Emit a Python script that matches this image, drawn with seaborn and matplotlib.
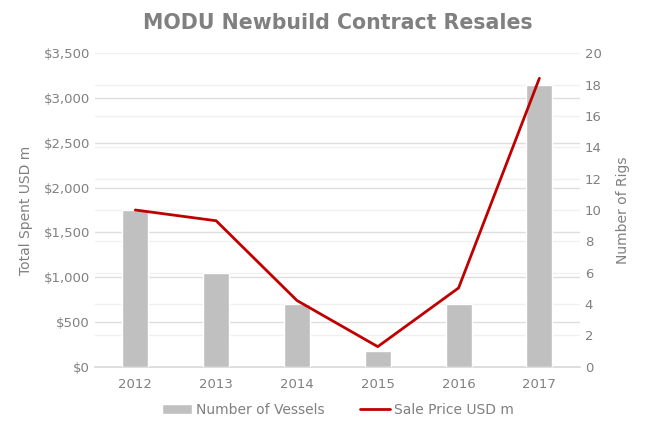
import numpy as np
import pandas as pd
import matplotlib
matplotlib.use("Agg")
import matplotlib.pyplot as plt
import seaborn as sns
from matplotlib.ticker import FuncFormatter

years = ["2012", "2013", "2014", "2015", "2016", "2017"]
vessels = [10, 6, 4, 1, 4, 18]
sale_price = [1750, 1630, 740, 225, 880, 3220]

df = pd.DataFrame({"year": years, "vessels": vessels, "price": sale_price})

sns.set_theme(style="white")
plt.rcParams["font.family"] = ["DejaVu Sans"]
grey = "#808080"

fig = plt.figure(figsize=(6.5, 4.29), dpi=100)
ax2 = fig.add_axes([0.146, 0.145, 0.746, 0.731])  # bars, right scale
ax = ax2.twinx()                                     # line, left scale
ax.yaxis.tick_left()
ax.yaxis.set_label_position("left")
ax2.yaxis.tick_right()
ax2.yaxis.set_label_position("right")
ax.set_zorder(ax2.get_zorder() + 1)
ax.patch.set_visible(False)

sns.barplot(data=df, x="year", y="vessels", color="#c0c0c0", width=0.32,
            saturation=1, ax=ax2, label="Number of Vessels", zorder=3,
            legend=False)
ax2.set_ylim(0, 20)
ax2.set_yticks(range(0, 21, 2))
# gridlines for both scales drawn behind the bars
ax2.set_yticks(np.arange(0, 3501, 500) * 20 / 3500, minor=True)
ax2.grid(axis="y", which="minor", color="#dedede", lw=1, zorder=0)
ax2.grid(axis="y", which="major", color="#f0f0f0", lw=1, zorder=0)
ax2.set_axisbelow(True)

sns.lineplot(data=df, x="year", y="price", color="#c00000", lw=2,
             ax=ax, label="Sale Price USD m", sort=False)
ax.set_ylim(0, 3500)
ax.set_yticks(range(0, 3501, 500))
ax.yaxis.set_major_formatter(FuncFormatter(lambda v, p: f"${v:,.0f}"))
ax.set_xlim(-0.5, 5.5)

for a in (ax, ax2):
    for s in a.spines.values():
        s.set_visible(False)
    a.tick_params(which="both", length=0, colors=grey, labelsize=9.5)
    a.set_xlabel("")
ax2.spines["bottom"].set_visible(True)
ax2.spines["bottom"].set_color("#d9d9d9")
ax.set_ylabel("Total Spent USD m", color=grey, fontsize=10, labelpad=8)
ax2.set_ylabel("Number of Rigs", color=grey, fontsize=10, labelpad=10)
ax2.tick_params(axis="x", pad=8)

if ax2.get_legend() is not None:
    ax2.get_legend().remove()
ax.get_legend().remove()
h1, l1 = ax2.get_legend_handles_labels()
h2, l2 = ax.get_legend_handles_labels()
fig.legend(h1 + h2, l1 + l2, loc="center", bbox_to_anchor=(0.52, 0.045),
           ncol=2, frameon=False, fontsize=10, labelcolor=grey,
           handlelength=2.2, handletextpad=0.3, columnspacing=2.5)

fig.suptitle("MODU Newbuild Contract Resales", x=0.52, y=0.97,
             fontsize=14.8, fontweight="bold", color=grey)

fig.savefig("out.png", dpi=100)
